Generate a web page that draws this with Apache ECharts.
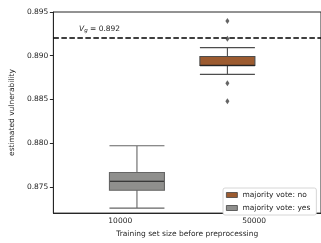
<!DOCTYPE html>
<html>
<head>
<meta charset="utf-8" />
<title>vulnerability boxplot</title>
<script src="https://cdn.jsdelivr.net/npm/echarts@6/dist/echarts.min.js"></script>
</head>
<body style="margin:0;background:#fff;">
<div id="echart" style="width:321px;height:243px;"></div>
<script type="text/javascript">
var sizes = ['10000', '50000'];
// [min, Q1, median, Q3, max]
var boxNo = ['-', [0.888, 0.889, 0.889, 0.890, 0.891]];
var boxYes = [[0.873, 0.875, 0.876, 0.877, 0.880], '-'];
var outliersNo = [[1, 0.894], [1, 0.892], [1, 0.887], [1, 0.885]];
var medianNo = [[1, 0.889]];
var medianYes = [[0, 0.876]];
var vg = 0.892;
var yTicks = [0.875, 0.880, 0.885, 0.890, 0.895];

var font = 'DejaVu Sans';
var ink = '#262626';
var brown = '#9c5b30', grey = '#8f8f8d';
var yMin = 0.872, yMax = 0.895;
var L = 48, W = 276, shift = 27.6;

function hiddenY(grid) {
  return { gridIndex: grid, type: 'value', min: yMin, max: yMax, show: false };
}
function hiddenX(grid) {
  return { gridIndex: grid, type: 'category', data: sizes, show: false };
}

var myChart = echarts.init(document.getElementById('echart'));
var option = {
  animation: false,
  title: {
    left: 74, top: 19,
    text: '{v|V}{g|g}{t| = 0.892}',
    textStyle: {
      rich: {
        v: { fontFamily: font, fontSize: 7.5, fontStyle: 'italic', fontWeight: 'normal', color: ink },
        g: { fontFamily: font, fontSize: 5.5, fontStyle: 'italic', fontWeight: 'normal', color: ink, verticalAlign: 'bottom', padding: [4, 0, 0, 0] },
        t: { fontFamily: font, fontSize: 7.5, fontWeight: 'normal', color: ink }
      }
    }
  },
  legend: {
    orient: 'vertical',
    left: 223, top: 188,
    padding: [3, 6, 3, 3],
    itemWidth: 11, itemHeight: 5, itemGap: 5,
    backgroundColor: '#fff',
    borderColor: '#cccccc', borderWidth: 0.8, borderRadius: 2,
    textStyle: { fontFamily: font, fontSize: 7.5, color: ink, padding: [0, 0, 0, 0] },
    data: [
      { name: 'majority vote: no', icon: 'rect', itemStyle: { color: brown, borderColor: '#444', borderWidth: 0.8 } },
      { name: 'majority vote: yes', icon: 'rect', itemStyle: { color: grey, borderColor: '#444', borderWidth: 0.8 } }
    ]
  },
  grid: [
    { left: L, top: 12, width: W, bottom: 26, show: true, borderColor: ink, borderWidth: 1 },
    { left: L + shift, top: 12, width: W, bottom: 26 },
    { left: L - shift, top: 12, width: W, bottom: 26 }
  ],
  xAxis: [
    {
      gridIndex: 0, type: 'category', data: sizes,
      name: 'Training set size before preprocessing', nameLocation: 'middle', nameGap: 15,
      nameTextStyle: { fontFamily: font, fontSize: 7.5, color: ink },
      axisLine: { lineStyle: { color: ink, width: 1 } },
      axisTick: { alignWithLabel: true, length: 3.5, lineStyle: { color: ink } },
      axisLabel: { fontFamily: font, fontSize: 7.5, color: ink, margin: 4 }
    },
    hiddenX(1),
    hiddenX(2)
  ],
  yAxis: [
    {
      gridIndex: 0, type: 'value', min: yMin, max: yMax,
      name: 'estimated vulnerability', nameLocation: 'middle', nameGap: 30,
      nameTextStyle: { fontFamily: font, fontSize: 7.5, color: ink },
      splitLine: { show: false },
      axisLine: { show: true, lineStyle: { color: ink, width: 1 } },
      axisTick: { show: true, length: 3.5, customValues: yTicks, lineStyle: { color: ink } },
      axisLabel: {
        fontFamily: font, fontSize: 7.5, color: ink, margin: 5,
        customValues: yTicks,
        formatter: function (v) { return v.toFixed(3); }
      }
    },
    hiddenY(1),
    hiddenY(2)
  ],
  series: [
    {
      name: 'Vg', type: 'line', xAxisIndex: 0, yAxisIndex: 0, data: [], z: 1,
      markLine: {
        silent: true, symbol: 'none', precision: 4, z: 1,
        label: { show: false },
        lineStyle: { color: '#000', type: [5.5, 2.5], width: 1.5 },
        data: [{ yAxis: vg }]
      }
    },
    {
      name: 'majority vote: no', type: 'boxplot',
      xAxisIndex: 2, yAxisIndex: 2, z: 3,
      boxWidth: [55, 55],
      data: boxNo,
      itemStyle: { color: brown, borderColor: '#4d4d4d', borderWidth: 1.1 }
    },
    {
      name: 'majority vote: yes', type: 'boxplot',
      xAxisIndex: 1, yAxisIndex: 1, z: 3,
      boxWidth: [55, 55],
      data: boxYes,
      itemStyle: { color: grey, borderColor: '#666666', borderWidth: 1.1 }
    },
    {
      name: 'median no', type: 'scatter', xAxisIndex: 2, yAxisIndex: 2,
      symbol: 'rect', symbolSize: [55, 1.6], data: medianNo,
      itemStyle: { color: '#1a1a1a' }, z: 5
    },
    {
      name: 'median yes', type: 'scatter', xAxisIndex: 1, yAxisIndex: 1,
      symbol: 'rect', symbolSize: [54, 1.4], data: medianYes,
      itemStyle: { color: '#2e2e2e' }, z: 5
    },
    {
      name: 'outliers no', type: 'scatter', xAxisIndex: 2, yAxisIndex: 2,
      symbol: 'diamond', symbolSize: [4, 6], data: outliersNo,
      itemStyle: { color: '#3d3d3d' }, z: 6
    }
  ]
};
option && myChart.setOption(option);
</script>
</body>
</html>
